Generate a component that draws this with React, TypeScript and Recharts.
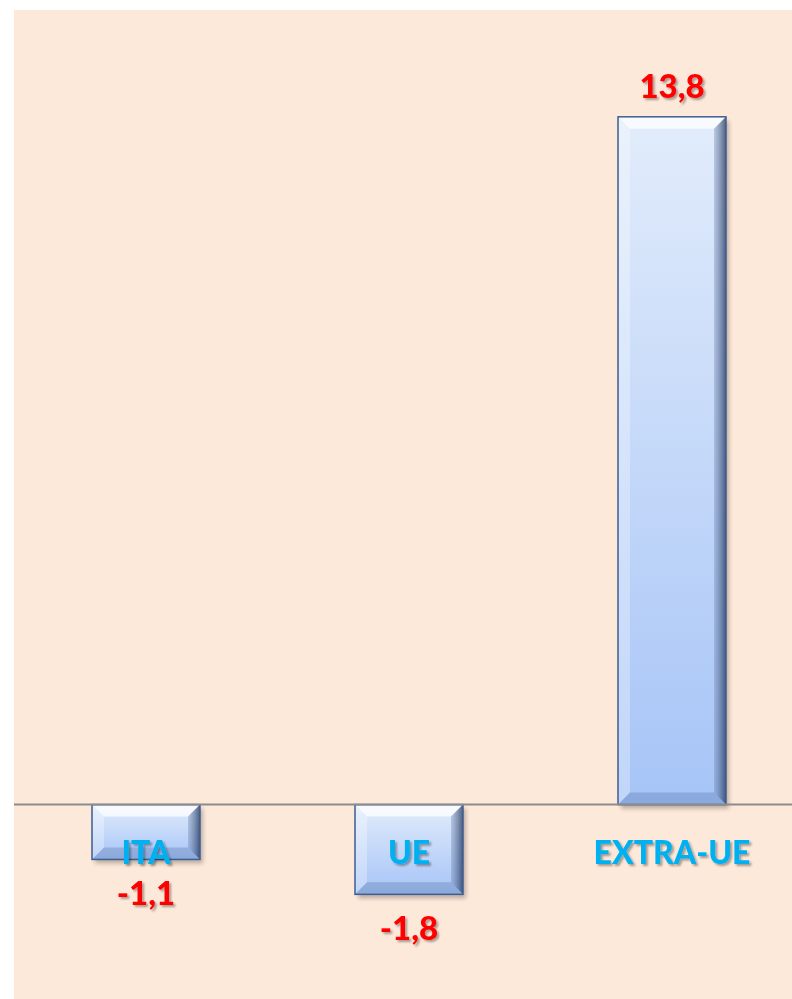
import React from "react";
import { BarChart, Bar, XAxis, YAxis, ReferenceLine, LabelList } from "recharts";

const CATEGORIES = ["ITA", "UE", "EXTRA-UE"];
const VALUES = [-1.1, -1.8, 13.8];

const rows = CATEGORIES.map((name, i) => ({ name, value: VALUES[i] }));

const FONT = "Lato, Carlito, 'Open Sans', sans-serif";
const fmt = (v: number) => String(v).replace(".", ",");

function box(p: any) {
  const x = p.x ?? p.viewBox?.x ?? 0;
  const y = p.y ?? p.viewBox?.y ?? 0;
  const w = p.width ?? p.viewBox?.width ?? 0;
  const h = p.height ?? p.viewBox?.height ?? 0;
  return { x, w, top: Math.min(y, y + h), bottom: Math.max(y, y + h) };
}

function BevelBar(props: any) {
  const { x, w, top, bottom } = box(props);
  const h = bottom - top;
  if (w <= 0 || h <= 0) return null;
  const b = Math.min(12, h / 3);
  const r = x + w;
  return (
    <g>
      <rect x={x + 3} y={top + 4} width={w} height={h} fill="#000" opacity={0.25} filter="url(#blur)" />
      <rect x={x} y={top} width={w} height={h} fill="url(#barGrad)" />
      <polygon points={`${x},${top} ${r},${top} ${r - b},${top + b} ${x + b},${top + b}`} fill="#fff" opacity={0.75} />
      <polygon points={`${x},${top} ${x + b},${top + b} ${x + b},${bottom - b} ${x},${bottom}`} fill="#fff" opacity={0.3} />
      <polygon points={`${r},${top} ${r},${bottom} ${r - b},${bottom - b} ${r - b},${top + b}`} fill="url(#rightGrad)" />
      <polygon points={`${x},${bottom} ${r},${bottom} ${r - b},${bottom - b} ${x + b},${bottom - b}`} fill="#2a4a80" opacity={0.22} />
      <rect x={x} y={top} width={w} height={h} fill="none" stroke="#3f5e90" strokeWidth={1.5} />
    </g>
  );
}

function ValueLabel(props: any) {
  const { x, w, top, bottom } = box(props);
  const v = VALUES[props.index];
  const ty = v >= 0 ? top - 19 : bottom + 46;
  return (
    <text x={x + w / 2} y={ty} textAnchor="middle" fill="#ff0000" fontFamily={FONT}
      fontWeight={900} fontSize={33} filter="url(#tshadow)">
      {fmt(v)}
    </text>
  );
}

function NameLabel(props: any) {
  const { x, w, top, bottom } = box(props);
  const v = VALUES[props.index];
  const zero = v >= 0 ? bottom : top;
  return (
    <text x={x + w / 2} y={zero + 59} textAnchor="middle" fill="#00b0f0" fontFamily={FONT}
      fontWeight={900} fontSize={32} filter="url(#tshadow)">
      {CATEGORIES[props.index]}
    </text>
  );
}

export default function App() {
  return (
    <div style={{ position: "absolute", left: 14, top: 10, width: 778, height: 989, overflow: "hidden", background: "#fde9da" }}>
      <BarChart width={789} height={989} data={rows} margin={{ top: 47, right: 0, bottom: 0, left: 0 }} barSize={108}>
        <defs>
          <linearGradient id="barGrad" x1="0" y1="0" x2="0" y2="1">
            <stop offset="0%" stopColor="#e2ecfb" />
            <stop offset="100%" stopColor="#a6c4f7" />
          </linearGradient>
          <linearGradient id="rightGrad" x1="0" y1="0" x2="1" y2="0">
            <stop offset="0%" stopColor="#6f86b0" stopOpacity={0.35} />
            <stop offset="100%" stopColor="#1c2f55" stopOpacity={0.75} />
          </linearGradient>
          <filter id="blur" x="-20%" y="-20%" width="140%" height="140%">
            <feGaussianBlur stdDeviation="2" />
          </filter>
          <filter id="tshadow" x="-20%" y="-20%" width="140%" height="140%">
            <feDropShadow dx="2" dy="2" stdDeviation="1.2" floodColor="#000" floodOpacity="0.35" />
          </filter>
        </defs>
        <XAxis dataKey="name" hide />
        <YAxis hide domain={[-3.9, 15]} />
        <ReferenceLine y={0} stroke="#8c8c8c" strokeWidth={2} />
        <Bar dataKey="value" shape={BevelBar} isAnimationActive={false}>
          <LabelList dataKey="value" content={ValueLabel} />
          <LabelList dataKey="name" content={NameLabel} />
        </Bar>
      </BarChart>
    </div>
  );
}
